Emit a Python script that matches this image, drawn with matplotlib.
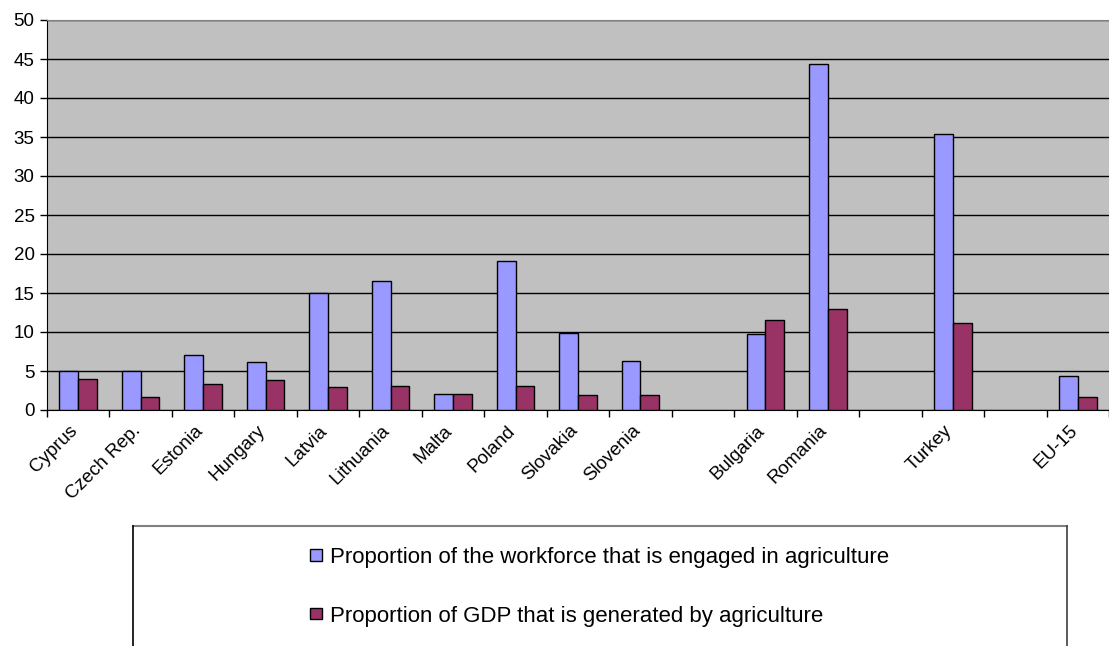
import matplotlib
matplotlib.use("Agg")
import matplotlib.pyplot as plt
from matplotlib.lines import Line2D
from matplotlib.transforms import ScaledTranslation
import numpy as np

plt.rcParams['font.family'] = ['Liberation Sans', 'DejaVu Sans']

# categories (empty strings are the gaps between groups)
countries = ['Cyprus', 'Czech Rep.', 'Estonia', 'Hungary', 'Latvia', 'Lithuania',
             'Malta', 'Poland', 'Slovakia', 'Slovenia', '', 'Bulgaria', 'Romania',
             '', 'Turkey', '', 'EU-15']
workforce = [5.0, 5.0, 7.1, 6.1, 15.0, 16.5, 2.1, 19.1, 9.9, 6.3, np.nan,
             9.7, 44.3, np.nan, 35.4, np.nan, 4.3]
gdp = [4.0, 1.7, 3.3, 3.8, 3.0, 3.1, 2.1, 3.1, 1.9, 1.9, np.nan,
       11.5, 12.9, np.nan, 11.1, np.nan, 1.7]
series_names = ['Proportion of the workforce that is engaged in agriculture',
                'Proportion of GDP that is generated by agriculture']
yticks = list(range(0, 55, 5))

W, H = 1109, 646
fig = plt.figure(figsize=(W / 100, H / 100), dpi=100)
ax = fig.add_axes([47 / W, (H - 410) / H, 1062 / W, 390 / H])
ax.set_facecolor('#C0C0C0')

x = np.arange(len(countries))
bw = 0.3
b1 = ax.bar(x - bw / 2, workforce, bw, color='#9999FF', edgecolor='black',
            linewidth=1, zorder=3, label=series_names[0])
b2 = ax.bar(x + bw / 2, gdp, bw, color='#993366', edgecolor='black',
            linewidth=1, zorder=3, label=series_names[1])

ax.set_xlim(-0.5, len(countries) - 0.5)
ax.set_ylim(0, 50)
ax.set_yticks(yticks)
ax.yaxis.grid(True, color='black', linewidth=1, zorder=1)
ax.tick_params(axis='y', labelsize=13.5, direction='out', length=5, width=1, pad=4)

# boundary ticks without labels, labels at centres
ax.set_xticks(np.arange(-0.5, len(countries), 1.0))
ax.set_xticklabels([])
ax.tick_params(axis='x', which='major', direction='out', length=5, width=1)
ax.set_xticks(x, minor=True)
ax.set_xticklabels(countries, minor=True, rotation=45, ha='right', va='center',
                   rotation_mode='anchor', fontsize=13.5)
ax.tick_params(axis='x', which='minor', length=0, pad=13)
shift = ScaledTranslation(-0.03, 0, fig.dpi_scale_trans)
for lab in ax.get_xticklabels(minor=True):
    lab.set_transform(lab.get_transform() + shift)

ax.spines['top'].set_color('#808080')
ax.spines['right'].set_visible(False)
ax.spines['left'].set_color('black')
ax.spines['bottom'].set_color('black')

# legend box
lx0, lx1, ly = 133 / W, 1067 / W, (H - 526) / H
fig.add_artist(Line2D([lx0, lx1], [ly, ly], color='#808080', lw=1.5,
                      transform=fig.transFigure))
fig.add_artist(Line2D([lx0, lx0], [ly, 0], color='black', lw=1.2,
                      transform=fig.transFigure))
fig.add_artist(Line2D([lx1, lx1], [ly, 0], color='#404040', lw=1.2,
                      transform=fig.transFigure))

fig.legend(handles=[b1, b2], labels=series_names, loc='upper left',
           bbox_to_anchor=(310 / W, (H - 547) / H), frameon=False,
           fontsize=16, handlelength=0.55, handleheight=0.4, handletextpad=0.35,
           labelspacing=1.7, borderpad=0, borderaxespad=0)

fig.savefig('out.png', dpi=100)
